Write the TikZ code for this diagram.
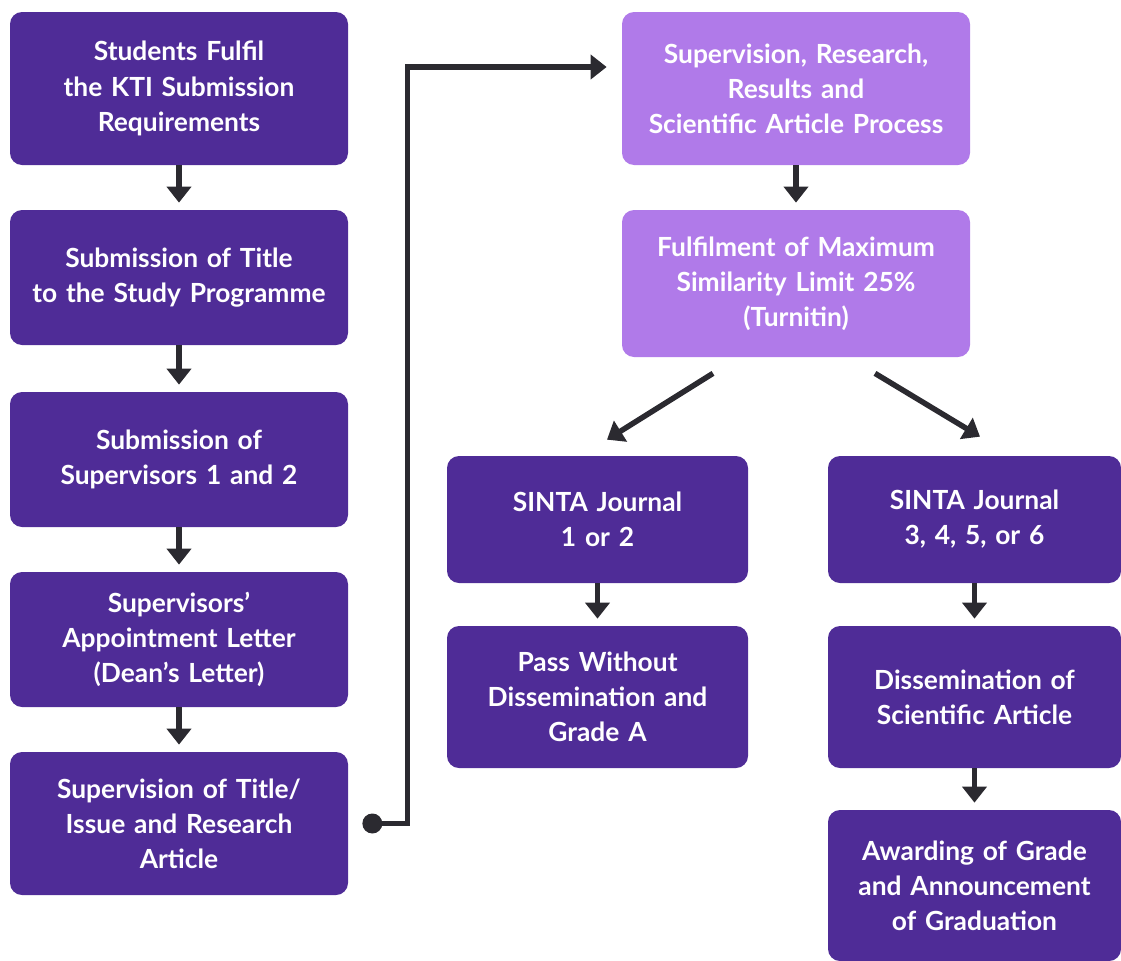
\documentclass[tikz,border=0pt]{standalone}
\usepackage{fontspec}
\setmainfont{Lato}
\usetikzlibrary{arrows.meta,positioning}
\definecolor{darkbox}{HTML}{4F2C97}
\definecolor{lightbox}{HTML}{B07AE9}
\definecolor{arrowgray}{HTML}{2B2A30}

\begin{document}
\begin{tikzpicture}[
	box/.style={rectangle, rounded corners=0.24cm, fill=darkbox, text=white, align=center, inner sep=0pt, font=\bfseries\fontsize{15}{20}\selectfont},
	light/.style={box, fill=lightbox},
	flow/.style={draw=arrowgray, line width=0.11cm, -{Triangle[width=0.48cm,length=0.32cm]}},
	back/.style={draw=arrowgray, line width=0.11cm, {Triangle[width=0.48cm,length=0.32cm]}-, shorten <=0.14cm}
	]
	\useasboundingbox (0,0) rectangle (22.42,-19.22);
	\node[box, text width=6.76cm, minimum height=3.06cm] (fulfil) at (3.58,-1.77) {Students Fulfil\\the KTI Submission\\Requirements}
	node[box, text width=6.76cm, minimum height=2.70cm] (title) at (3.58,-5.55) {Submission of Title\\to the Study Programme}
	edge[back] (fulfil)
	node[box, text width=6.76cm, minimum height=2.70cm] (supervisors) at (3.58,-9.19) {Submission of\\Supervisors 1 and 2}
	edge[back] (title)
	node[box, text width=6.76cm, minimum height=2.70cm] (letter) at (3.58,-12.79) {Supervisors’\\Appointment Letter\\(Dean’s Letter)}
	edge[back] (supervisors)
	node[box, text width=6.76cm, minimum height=2.86cm] (article) at (3.58,-16.47) {Supervision of Title/\\Issue and Research\\Article}
	edge[back] (letter);
	
	\node[light, text width=6.96cm, minimum height=3.06cm] (process) at (15.92,-1.77) {Supervision, Research,\\Results and\\Scientific Article Process}
	node[light, text width=6.96cm, minimum height=2.94cm] (similarity) at (15.92,-5.67) {Fulfilment of Maximum\\Similarity Limit 25\%\\(Turnitin)}
	edge[back] (process)
	node[box, text width=6.02cm, minimum height=2.54cm] (journala) at (11.95,-10.39) {SINTA Journal\\1 or 2}
	node[box, text width=6.02cm, minimum height=2.84cm] (pass) at (11.95,-13.94) {Pass Without\\Dissemination and\\Grade A}
	edge[back] (journala)
	node[box, text width=5.86cm, minimum height=2.54cm] (journalb) at (19.49,-10.39) {SINTA Journal\\3, 4, 5, or 6}
	node[box, text width=5.86cm, minimum height=2.84cm] (dissemination) at (19.49,-13.94) {Dissemination of\\Scientific Article}
	edge[back] (journalb)
	node[box, text width=5.86cm, minimum height=3.02cm] (graduation) at (19.49,-17.71) {Awarding of Grade\\and Announcement\\of Graduation}
	edge[back] (dissemination);
	
	\coordinate (dot) at ([xshift=0.48cm]article.east);
	\fill[arrowgray] (dot) circle (0.2cm);
	\draw[flow, shorten >=0.3cm] (dot) -- ++(0.7,0) |- ([yshift=0.43cm]process.west);
	\draw[flow] ([xshift=-1.66cm,yshift=-0.32cm]similarity.south) -- ([xshift=0.19cm,yshift=0.32cm]journala.north);
	\draw[flow] ([xshift=1.58cm,yshift=-0.32cm]similarity.south) -- ([xshift=0.11cm,yshift=0.38cm]journalb.north);
	
\end{tikzpicture}
\end{document}
